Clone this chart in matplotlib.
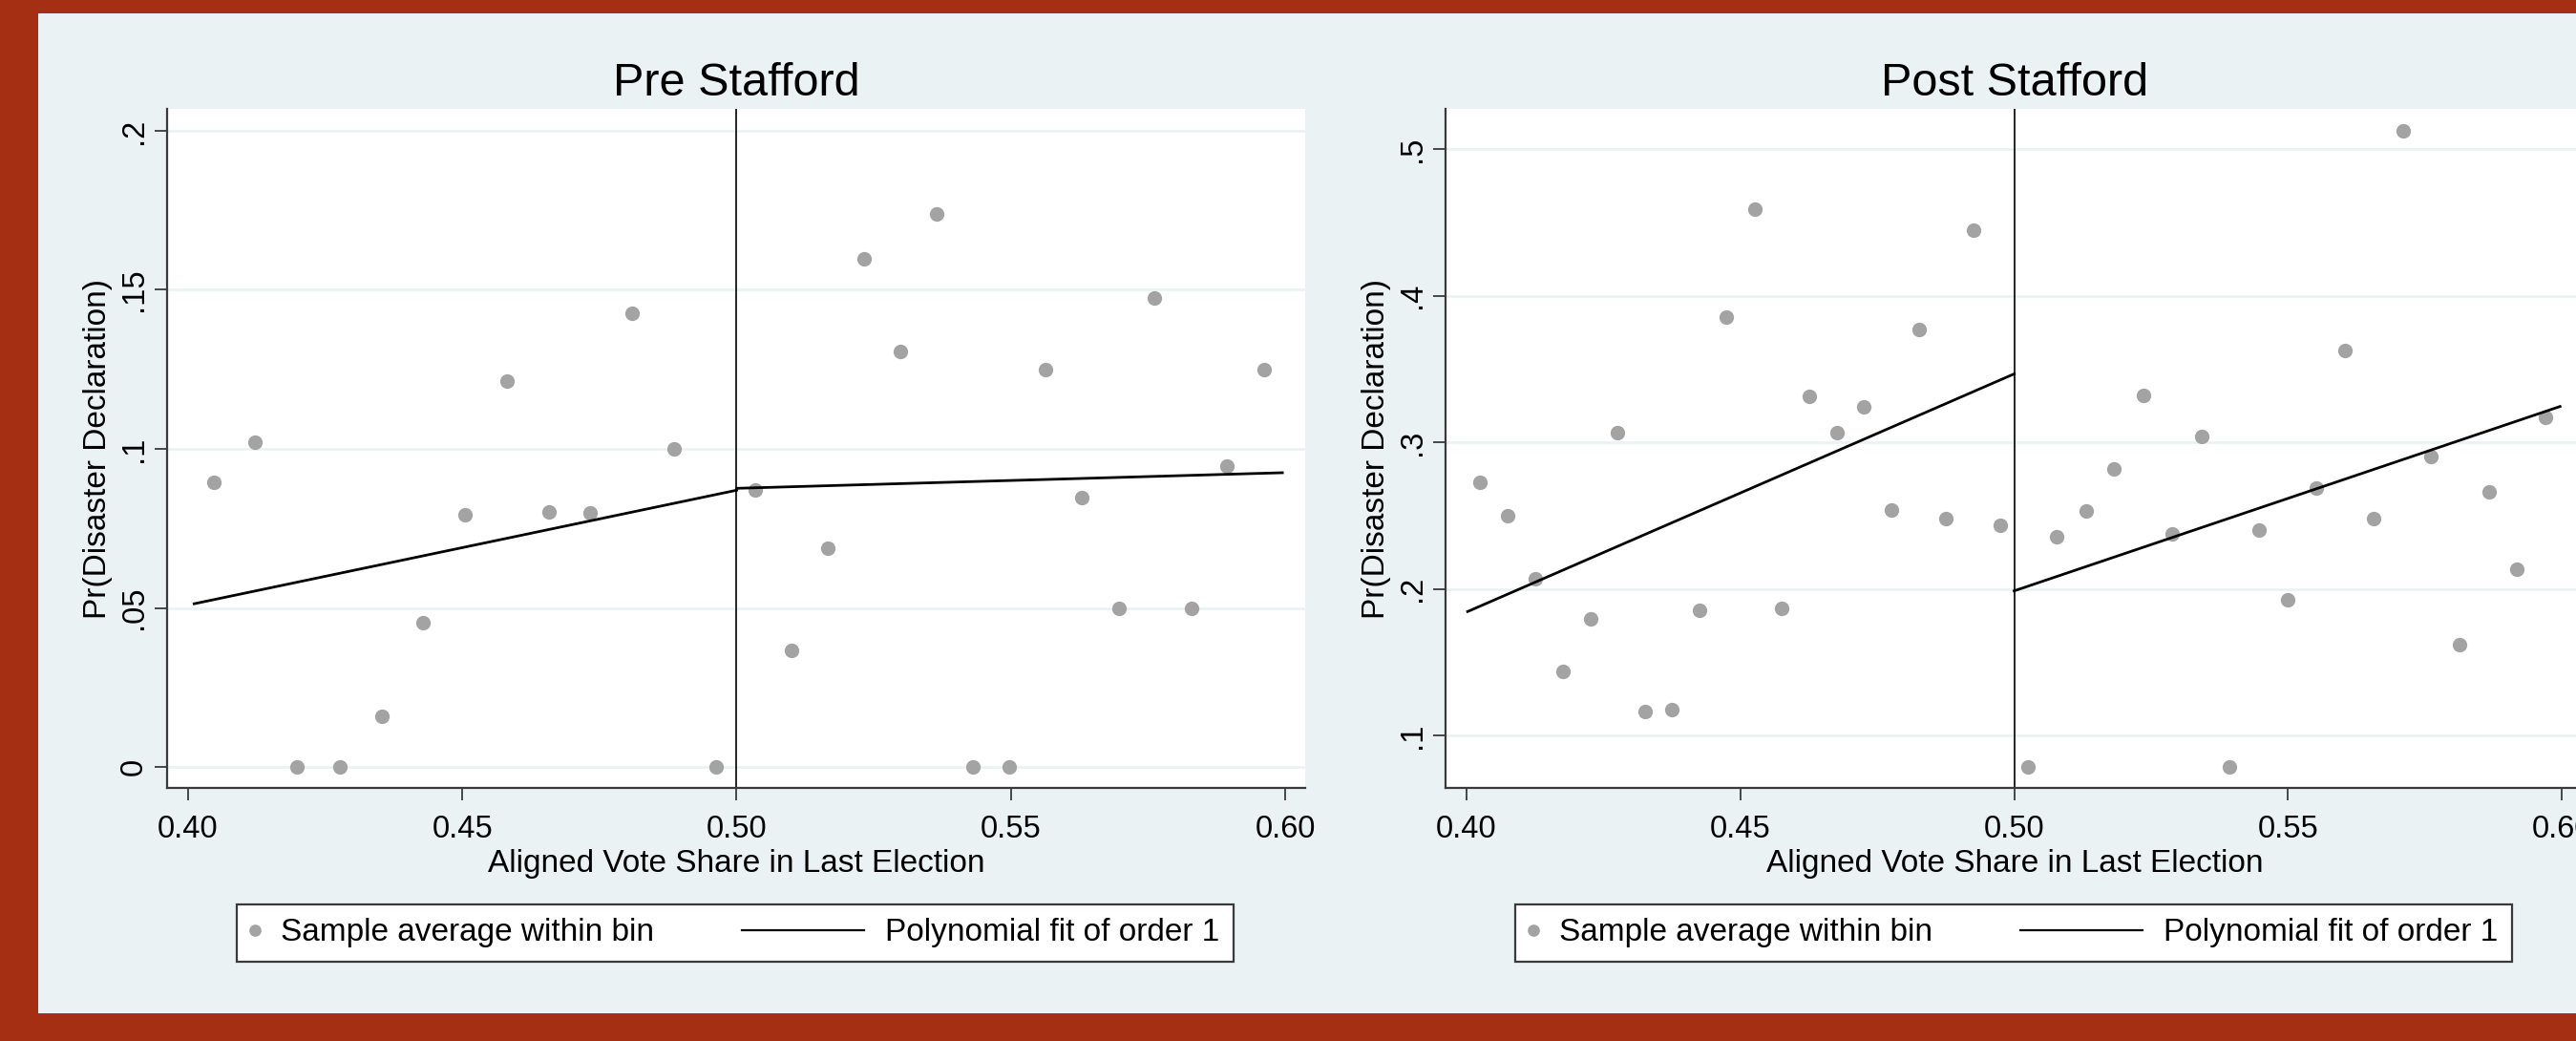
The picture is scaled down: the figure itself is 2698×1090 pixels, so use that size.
import matplotlib
matplotlib.use("Agg")
import matplotlib.pyplot as plt
from matplotlib.lines import Line2D
from matplotlib.patches import Rectangle
from matplotlib.legend_handler import HandlerLine2D

plt.rcParams['font.family'] = ['Liberation Sans', 'DejaVu Sans']

# ---------------- data ----------------
panel_titles = ["Pre Stafford", "Post Stafford"]
x_label = "Aligned Vote Share in Last Election"
y_label = "Pr(Disaster Declaration)"
legend_labels = ["Sample average within bin", "Polynomial fit of order 1"]
cutoff = 0.5

x_ticks = [0.40, 0.45, 0.50, 0.55, 0.60]
x_ticklabels = ["0.40", "0.45", "0.50", "0.55", "0.60"]

pre_yticks = [0.0, 0.05, 0.10, 0.15, 0.20]
pre_yticklabels = ["0", ".05", ".1", ".15", ".2"]
post_yticks = [0.1, 0.2, 0.3, 0.4, 0.5]
post_yticklabels = [".1", ".2", ".3", ".4", ".5"]

pre_x = [0.4047, 0.4121, 0.4199, 0.4276, 0.4353, 0.4428, 0.4504, 0.4581, 0.4658,
         0.4733, 0.4809, 0.4886, 0.4963, 0.5034, 0.5100, 0.5166, 0.5233, 0.5298,
         0.5365, 0.5430, 0.5497, 0.5564, 0.5630, 0.5697, 0.5762, 0.5829, 0.5894, 0.5961]
pre_y = [0.0896, 0.1021, 0.0, 0.0, 0.0160, 0.0453, 0.0792, 0.1212, 0.0803,
         0.0798, 0.1427, 0.1000, 0.0, 0.0870, 0.0366, 0.0689, 0.1599, 0.1306,
         0.1738, 0.0, 0.0, 0.1248, 0.0847, 0.0500, 0.1474, 0.0500, 0.0946, 0.1248]

post_x = [0.4025, 0.4075, 0.4125, 0.4176, 0.4226, 0.4276, 0.4326, 0.4375, 0.4425,
          0.4475, 0.4526, 0.4576, 0.4626, 0.4676, 0.4726, 0.4776, 0.4826, 0.4875,
          0.4925, 0.4975, 0.5026, 0.5078, 0.5131, 0.5183, 0.5236, 0.5289, 0.5342,
          0.5394, 0.5447, 0.5500, 0.5551, 0.5604, 0.5657, 0.5710, 0.5761, 0.5814,
          0.5867, 0.5918, 0.5971]
post_y = [0.2724, 0.2498, 0.2071, 0.1435, 0.1792, 0.3064, 0.1166, 0.1173, 0.1855,
          0.3855, 0.4590, 0.1866, 0.3311, 0.3064, 0.3244, 0.2541, 0.3767, 0.2477,
          0.4445, 0.2435, 0.0788, 0.2357, 0.2530, 0.2820, 0.3318, 0.2375, 0.3042,
          0.0788, 0.2399, 0.1926, 0.2689, 0.3625, 0.2481, 0.5124, 0.2901, 0.1622,
          0.2664, 0.2134, 0.3170]

pre_fit_left_x = [0.4011, 0.5000]
pre_fit_left_y = [0.0513, 0.0870]
pre_fit_right_x = [0.5000, 0.5995]
pre_fit_right_y = [0.0876, 0.0925]

post_fit_left_x = [0.4002, 0.5000]
post_fit_left_y = [0.1845, 0.3466]
post_fit_right_x = [0.5000, 0.5997]
post_fit_right_y = [0.1986, 0.3244]

# ---------------- style ----------------
W, H, DPI = 2698, 1090, 100
RED = '#a42f13'
BG = '#eaf2f3'
GRID = '#eaf2f3'
MARK = '#a3a3a3'
AXC = '#3a3a3a'
FS = 23.5


class ShiftedLineHandler(HandlerLine2D):
    def __init__(self, start, end, **kw):
        super().__init__(**kw)
        self.start, self.end = start, end

    def create_artists(self, legend, orig_handle, xdescent, ydescent,
                       width, height, fontsize, trans):
        y = (height - ydescent) / 2.0
        line = Line2D([-xdescent + self.start * fontsize, -xdescent + self.end * fontsize], [y, y])
        self.update_prop(line, orig_handle, legend)
        line.set_transform(trans)
        return [line]


fig = plt.figure(figsize=(W / DPI, H / DPI), dpi=DPI, facecolor=RED)
fig.add_artist(Rectangle((40 / W, 29 / H), 1 - 40 / W, (1061 - 14) / H,
                         transform=fig.transFigure, facecolor=BG, edgecolor='none', zorder=0))

ax_w = 1192 / W
ax_h = 711 / H
ax_b = 1 - 825 / H
axes_specs = [
    dict(left=175 / W, title=panel_titles[0], x=pre_x, y=pre_y,
         fl=(pre_fit_left_x, pre_fit_left_y), fr=(pre_fit_right_x, pre_fit_right_y),
         xlim=(0.39617, 0.60366), ylim=(-0.0066, 0.2069),
         yt=pre_yticks, ytl=pre_yticklabels, leg_x=248 / W),
    dict(left=1514 / W, title=panel_titles[1], x=post_x, y=post_y,
         fl=(post_fit_left_x, post_fit_left_y), fr=(post_fit_right_x, post_fit_right_y),
         xlim=(0.39616, 0.60401), ylim=(0.0642, 0.5274),
         yt=post_yticks, ytl=post_yticklabels, leg_x=1587 / W),
]

for spec in axes_specs:
    ax = fig.add_axes([spec['left'], ax_b, ax_w, ax_h])
    ax.set_facecolor('white')
    ax.plot(spec['x'], spec['y'], ls='none', marker='o', ms=11, color=MARK, mec='none', zorder=3)
    ax.plot(spec['fl'][0], spec['fl'][1], color='black', lw=2.0, zorder=4)
    ax.plot(spec['fr'][0], spec['fr'][1], color='black', lw=2.0, zorder=4)
    ax.axvline(cutoff, color='black', lw=1.2, zorder=2)

    ax.set_xlim(*spec['xlim'])
    ax.set_ylim(*spec['ylim'])
    ax.set_xticks(x_ticks)
    ax.set_xticklabels(x_ticklabels)
    ax.set_yticks(spec['yt'])
    ax.set_yticklabels(spec['ytl'], rotation=90, va='center')
    ax.grid(axis='y', color=GRID, lw=1.9, zorder=1)
    ax.set_axisbelow(True)
    for s in ('top', 'right'):
        ax.spines[s].set_visible(False)
    for s in ('left', 'bottom'):
        ax.spines[s].set_color(AXC)
        ax.spines[s].set_linewidth(1.6)
    ax.tick_params(axis='both', direction='out', length=9.5, width=1.3, color=AXC,
                   labelsize=FS, labelcolor='black')
    ax.tick_params(axis='x', pad=10.5)
    ax.tick_params(axis='y', pad=4.5)

    ax.set_title(spec['title'], fontsize=35, pad=10)
    ax.set_xlabel(x_label, fontsize=24)
    ax.xaxis.set_label_coords(0.5, -0.0905)
    ax.set_ylabel(y_label, fontsize=24)
    ax.yaxis.set_label_coords(-0.0478, 0.5)

    h_mark = Line2D([], [], ls='none', marker='o', ms=11, color=MARK, mec='none')
    h_line = Line2D([], [], color='black', lw=1.6)
    leg = ax.legend([h_mark, h_line], legend_labels, ncol=2, mode='expand',
                    loc='center', bbox_to_anchor=(spec['leg_x'], 1 - 977 / H, 1044 / W, 0),
                    bbox_transform=fig.transFigure, borderaxespad=0, borderpad=0.43,
                    handlelength=0.27, handletextpad=0.69, fontsize=24, markerscale=0.83,
                    numpoints=1, fancybox=False, framealpha=1, edgecolor=AXC,
                    handler_map={h_line: ShiftedLineHandler(-3.55, 0.28)})
    leg.get_frame().set_linewidth(1.6)

fig.savefig('out.png', dpi=DPI, facecolor=RED)
